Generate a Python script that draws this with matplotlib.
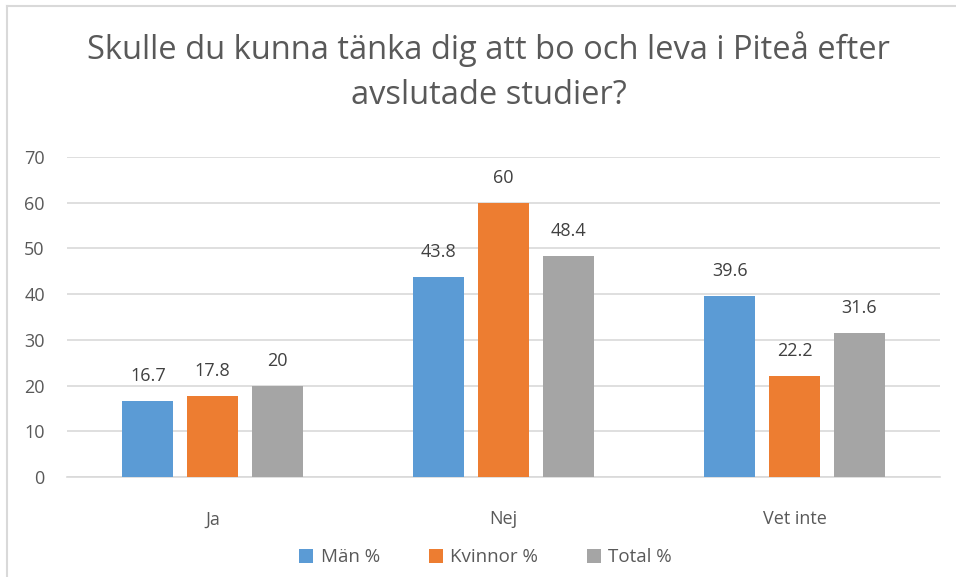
import matplotlib.pyplot as plt
import numpy as np

categories = ["Ja", "Nej", "Vet inte"]
series_names = ["Män %", "Kvinnor %", "Total %"]
man = [16.7, 43.8, 39.6]
kvinnor = [17.8, 60, 22.2]
total = [20, 48.4, 31.6]
yticks = [0, 10, 20, 30, 40, 50, 60, 70]

colors = ["#5B9BD5", "#ED7D31", "#A5A5A5"]
text_color = "#595959"

plt.rcParams["font.family"] = ["Open Sans", "DejaVu Sans"]

fig = plt.figure(figsize=(9.56, 5.77), dpi=100)
ax = fig.add_axes([0.0701, 0.1733, 0.9132, 0.5547])

x = np.arange(len(categories))
width = 0.175
step = 0.222
for i, (vals, name) in enumerate(zip([man, kvinnor, total], series_names)):
    pos = x + (i - 1) * step
    bars = ax.bar(pos, vals, width, color=colors[i], label=name, zorder=3)
    for b, v in zip(bars, vals):
        ax.text(b.get_x() + b.get_width() / 2, v + 3.4, f"{v:g}",
                ha="center", va="bottom", fontsize=13, color="#404040")

ax.set_xlim(-0.5, 2.5)
ax.set_ylim(0, 70)
ax.set_yticks(yticks)
ax.set_xticks(x)
ax.set_xticklabels(categories)
ax.grid(axis="y", color="#D9D9D9", linewidth=1.2, zorder=0)
for s in ["top", "right", "left"]:
    ax.spines[s].set_visible(False)
ax.spines["bottom"].set_color("#D9D9D9")
ax.spines["bottom"].set_linewidth(1.2)
ax.tick_params(axis="both", length=0, labelsize=13, colors=text_color)
ax.tick_params(axis="y", pad=16)
ax.tick_params(axis="x", pad=24)

fig.text(0.511, 0.876, "Skulle du kunna tänka dig att bo och leva i Piteå efter\navslutade studier?",
         ha="center", va="center", fontsize=23.5, color=text_color, linespacing=1.45)

fig.legend(loc="center", bbox_to_anchor=(0.508, 0.034), ncol=3, frameon=False,
           fontsize=13.5, handlelength=0.75, handleheight=0.75, columnspacing=2.6,
           handletextpad=0.4, labelcolor=text_color)

# chart border (left/top only visible in crop)
fig.add_artist(plt.Line2D([0.0075, 0.0075], [0, 0.99], color="#D9D9D9", lw=1.5))
fig.add_artist(plt.Line2D([0.0075, 1.0], [0.99, 0.99], color="#D9D9D9", lw=1.5))

fig.savefig("out.png", dpi=100)
